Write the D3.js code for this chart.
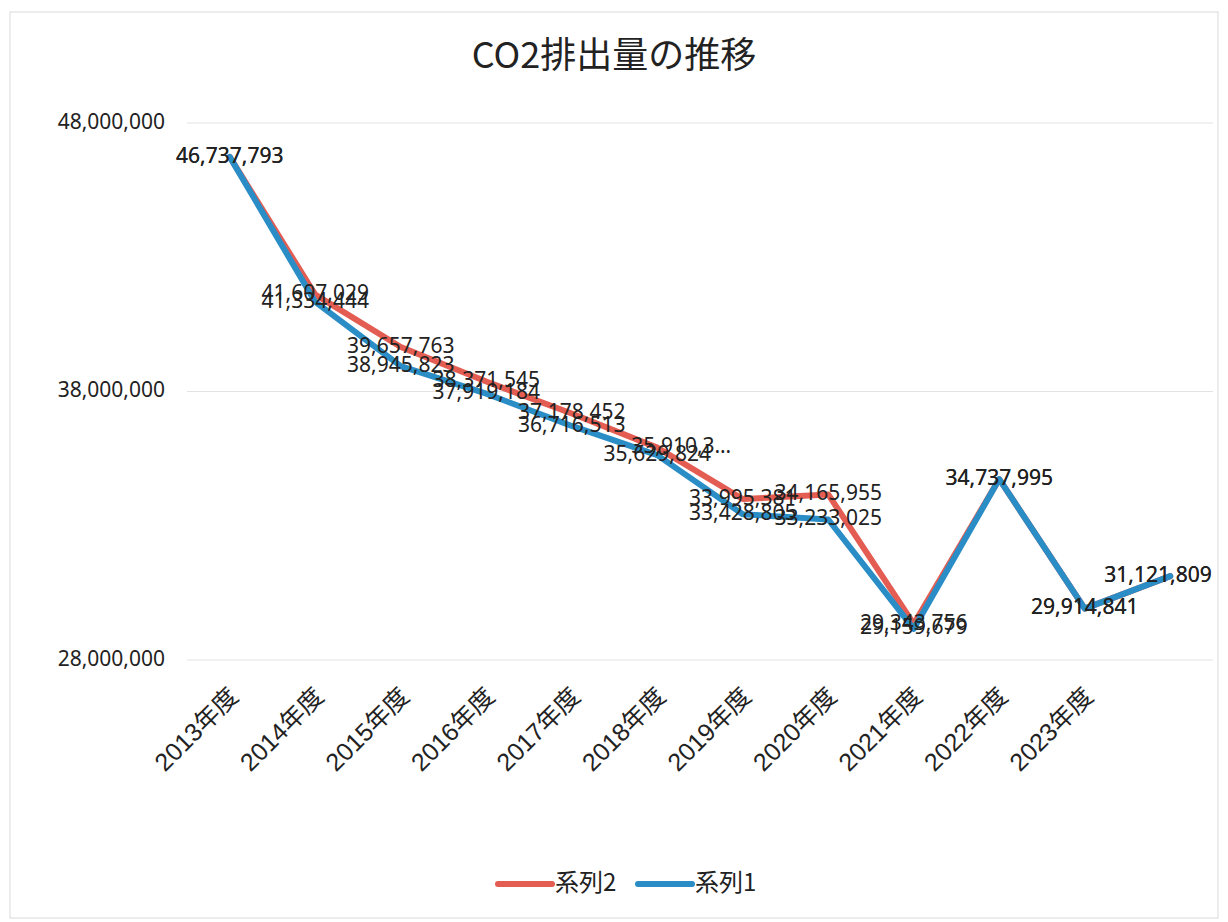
<!DOCTYPE html>
<html lang="ja">
<head>
<meta charset="UTF-8">
<title>CO2排出量の推移</title>
<script src="https://d3js.org/d3.v7.min.js"></script>
<style>
    body { margin: 0; background: #fff; }
    svg text { fill: #222; }
</style>
</head>
<body>
<div id="chart"></div>
<script>
    // categories (last point has no label in the original)
    const years = ["2013年度", "2014年度", "2015年度", "2016年度", "2017年度", "2018年度",
        "2019年度", "2020年度", "2021年度", "2022年度", "2023年度", ""];
    // 系列1 (blue)
    const series1 = [46737793, 41334444, 38945823, 37919184, 36716513, 35629824,
        33428805, 33233025, 29159679, 34737995, 29914841, 31121809];
    // 系列2 (red)
    const series2 = [46737793, 41607029, 39657763, 38371545, 37178452, 35910300,
        33995381, 34165955, 29343756, 34737995, 29914841, 31121809];
    const series2Truncated = { 5: "35,910,3…" };
    const yTicks = [28000000, 38000000, 48000000];

    const W = 1228, H = 922;
    const margin = {top: 123, right: 15, bottom: 262, left: 187};
    const width = W - margin.left - margin.right;
    const height = H - margin.top - margin.bottom;

    const svg = d3.select("#chart").append("svg")
        .attr("width", W)
        .attr("height", H);

    svg.append("rect")
        .attr("x", 10).attr("y", 12)
        .attr("width", W - 20).attr("height", H - 16)
        .attr("fill", "none")
        .attr("stroke", "#d9d9d9");

    svg.append("text")
        .attr("x", 614).attr("y", 58)
        .attr("text-anchor", "middle")
        .attr("dominant-baseline", "middle")
        .style("font-family", "'Noto Sans CJK JP', sans-serif")
        .style("font-size", "36px")
        .text("CO2排出量の推移");

    const g = svg.append("g")
        .attr("transform", `translate(${margin.left},${margin.top})`);

    const x = d3.scalePoint().domain(d3.range(years.length)).range([0, width]).padding(0.5);
    const y = d3.scaleLinear().domain([28000000, 48000000]).range([height, 0]);
    const fmt = d3.format(",");

    // gridlines + y labels
    g.selectAll(".grid").data(yTicks).join("line")
        .attr("x1", 0).attr("x2", width)
        .attr("y1", d => y(d)).attr("y2", d => y(d))
        .attr("stroke", "#e3e3e3");

    g.selectAll(".ylab").data(yTicks).join("text")
        .attr("x", -22).attr("y", d => y(d))
        .attr("text-anchor", "end")
        .attr("dominant-baseline", "middle")
        .style("font-family", "'Noto Sans', sans-serif")
        .style("font-size", "21px")
        .text(d => fmt(d));

    // x labels
    g.selectAll(".xlab").data(years).join("text")
        .attr("text-anchor", "end")
        .attr("transform", (d, i) => `translate(${x(i) + 10},${height + 38}) rotate(-45)`)
        .style("font-family", "'Liberation Sans', 'Noto Sans CJK JP', sans-serif")
        .style("font-size", "25px")
        .text(d => d);

    const line = d3.line()
        .x((d, i) => x(i))
        .y(d => y(d));

    const red = "#e35d52", blue = "#2a8dc6";

    g.append("path").datum(series2)
        .attr("fill", "none").attr("stroke", red)
        .attr("stroke-width", 6).attr("stroke-linejoin", "round").attr("stroke-linecap", "round")
        .attr("d", line);
    g.append("path").datum(series1)
        .attr("fill", "none").attr("stroke", blue)
        .attr("stroke-width", 6).attr("stroke-linejoin", "round").attr("stroke-linecap", "round")
        .attr("d", line);

    function labels(data, cls, override) {
        g.selectAll("." + cls).data(data).join("text")
            .attr("class", cls)
            .attr("x", (d, i) => Math.min(x(i), width - 55) + (override[i] ? 24 : 0))
            .attr("y", d => y(d))
            .attr("text-anchor", "middle")
            .attr("dominant-baseline", "middle")
            .style("font-family", "'Noto Sans', sans-serif")
            .style("font-size", "21px")
            .text((d, i) => override[i] || fmt(d));
    }
    labels(series2, "lab2", series2Truncated);
    labels(series1, "lab1", {});

    // legend
    const legend = svg.append("g").attr("transform", "translate(0,884)");
    const items = [{name: "系列2", color: red, x: 498}, {name: "系列1", color: blue, x: 638}];
    items.forEach(it => {
        legend.append("line")
            .attr("x1", it.x).attr("x2", it.x + 54)
            .attr("stroke", it.color).attr("stroke-width", 6).attr("stroke-linecap", "round");
        legend.append("text")
            .attr("x", it.x + 57).attr("y", 0)
            .attr("dominant-baseline", "middle")
            .style("font-family", "'Noto Sans CJK JP', sans-serif")
            .style("font-size", "24px")
            .text(it.name);
    });
</script>
</body>
</html>
